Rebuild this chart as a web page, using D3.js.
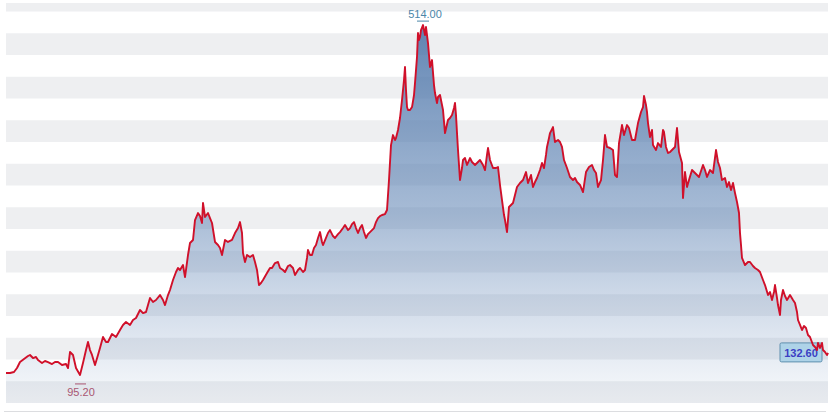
<!DOCTYPE html>
<html><head><meta charset="utf-8">
<script src="https://cdn.jsdelivr.net/npm/d3@7/dist/d3.min.js"></script>
<style>html,body{margin:0;padding:0;background:#fff;}svg{display:block;}</style>
</head><body><svg id="c" width="830" height="418"></svg>
<script>
// trading-day offsets and closing prices
const days = [0,4,8,11,14,18,22,24,27,30,32,36,39,42,46,49,52,56,60,62,64,67,70,74,77,80,82,84,86,89,92,94,97,100,102,106,110,114,117,120,124,127,130,134,137,140,144,147,150,154,157,159,162,164,167,170,172,174,177,179,182,184,187,189,192,194,196,197,199,202,204,206,209,212,214,216,219,222,226,229,232,234,236,237,239,241,244,247,249,251,253,255,257,261,264,266,269,272,274,277,279,282,284,287,289,292,294,297,299,301,302,304,306,308,310,312,314,316,317,320,322,324,327,329,332,334,337,339,342,344,346,348,350,352,354,356,358,360,362,364,366,368,370,372,374,376,379,381,383,385,387,389,390,392,394,396,398,399,400,401,402,404,406,408,409,410,411,412,413,414,415,417,418,419,420,421,422,424,426,428,429,431,432,434,436,437,439,442,444,446,448,449,450,451,452,454,456,457,459,461,464,466,469,472,474,477,479,481,482,484,487,490,492,494,496,498,499,501,503,505,507,509,511,514,517,520,522,525,527,529,531,534,536,538,540,541,543,544,547,549,552,554,556,558,561,564,567,569,571,574,577,580,583,586,588,590,592,595,597,599,601,604,607,609,611,613,616,618,621,623,626,629,632,635,637,638,640,641,642,644,646,647,650,652,655,657,658,660,662,664,666,669,671,673,676,677,679,681,683,686,689,693,697,699,701,704,707,710,712,714,716,719,721,723,725,727,729,731,733,734,735,736,739,742,744,747,749,752,754,757,759,762,764,766,768,769,771,772,774,775,777,779,781,784,787,789,791,792,794,796,798,800,802,804,807,809,811,812,814,816,817,819,821,822];
const prices = [109.5,109.5,110.6,115.2,122.1,125.6,129.0,130.2,126.7,127.9,124.4,121.0,123.3,122.1,119.8,122.1,122.1,118.7,119.8,115.2,133.6,130.2,115.2,107.2,121.0,135.9,145.1,135.9,130.2,118.7,130.2,138.2,150.9,145.1,145.1,154.3,150.9,158.9,164.7,168.1,164.7,170.4,172.7,181.9,178.4,179.6,195.7,191.1,193.4,199.1,193.4,187.6,199.1,204.9,216.4,225.6,230.2,227.9,233.6,219.8,245.1,258.9,262.4,285.3,293.4,289.9,281.9,304.9,288.8,293.4,287.6,281.9,260.1,256.6,253.2,245.1,262.4,260.1,262.4,270.4,276.1,283.0,270.4,247.4,237.1,245.1,242.8,245.1,237.1,227.9,210.6,212.9,216.4,224.4,230.2,230.2,235.9,237.1,230.2,227.9,225.6,232.5,233.6,230.2,222.1,227.9,230.2,225.6,227.9,241.7,250.9,245.1,245.1,253.2,256.6,264.7,271.5,260.1,256.6,264.7,270.4,273.8,266.9,264.7,269.2,271.5,276.1,279.6,273.8,276.1,280.7,283.0,276.1,270.4,276.1,279.6,271.5,264.7,269.2,271.5,273.8,276.1,283.0,287.6,289.9,291.1,292.2,296.8,331.3,371.5,383.0,377.3,379.6,388.8,402.6,423.3,446.3,461.2,434.8,415.2,411.8,411.8,415.2,429.0,442.8,457.7,472.7,500.3,492.2,495.7,503.7,509.5,503.7,498.0,507.2,498.0,488.8,461.2,469.2,440.5,431.3,419.8,426.7,429.0,417.5,411.8,385.3,400.3,402.6,406.0,414.1,419.8,406.0,385.3,365.8,331.3,345.1,354.3,356.6,348.6,356.6,352.0,348.6,352.0,354.3,348.6,342.8,360.1,368.1,354.3,345.1,345.1,346.3,325.6,308.3,291.1,285.3,271.5,300.3,302.6,304.9,314.1,323.3,327.9,331.3,340.5,327.9,337.1,323.3,329.0,333.6,342.8,350.9,345.1,360.1,369.3,379.6,385.3,392.2,375.0,377.3,375.0,369.3,354.3,345.1,334.8,331.3,333.6,329.0,325.6,317.5,340.5,346.3,348.6,342.8,339.4,323.3,331.3,354.3,383.0,369.3,368.1,365.8,337.1,334.8,373.8,394.5,383.0,394.5,391.1,377.3,377.3,396.8,409.5,415.2,427.9,417.5,409.5,396.8,380.7,388.8,371.5,365.8,373.8,369.3,388.8,386.5,369.3,362.4,363.5,365.8,369.3,391.1,363.5,350.9,310.6,340.5,323.3,331.3,342.8,339.4,334.8,348.6,342.8,334.8,342.8,339.4,365.8,352.0,345.1,331.3,333.6,323.3,329.0,319.8,327.9,316.4,306.0,293.4,270.4,256.6,241.7,233.6,237.1,237.1,232.5,230.2,227.9,225.6,216.4,210.6,199.1,202.6,193.4,202.6,210.6,195.7,187.6,176.1,193.4,204.9,198.0,193.4,199.1,193.4,189.9,179.6,170.4,164.7,158.9,163.5,161.2,153.2,150.9,141.7,139.4,135.9,144.0,138.2,144.0,135.9,133.6,130.2,132.6];

const yMin = 75, yMax = 534.8, bandStep = 25;
const highValue = 514.00, highDay = 417;
const lowValue = 95.20, lowDay = 74;
const lastValue = 132.60;

const W = 830, H = 418;
const m = {left: 6, right: 2, top: 3, bottom: 15};
const svg = d3.select("#c");
const x = d3.scaleLinear().domain([0, d3.max(days)]).range([m.left, W - m.right]);
const y = d3.scaleLinear().domain([yMin, yMax]).range([H - m.bottom, m.top]);
const fmt = d3.format(".2f");
const data = days.map((d, i) => ({d, v: prices[i]}));

// alternating bands
const bandStarts = d3.range(yMin, yMax, bandStep);
svg.append("g").selectAll("rect").data(bandStarts.filter((v, i) => i % 2 === 0)).join("rect")
  .attr("x", x(0)).attr("width", x(d3.max(days)) - x(0))
  .attr("y", v => y(Math.min(v + bandStep, yMax)))
  .attr("height", v => y(v) - y(Math.min(v + bandStep, yMax)))
  .attr("fill", "#eeeff1");

// bottom rule
svg.append("line").attr("x1", 4).attr("x2", 826)
  .attr("y1", y(yMin) + 8.5).attr("y2", y(yMin) + 8.5)
  .attr("stroke", "#dcdde0").attr("stroke-width", 1);

// gradient
const defs = svg.append("defs");
const g = defs.append("linearGradient").attr("id", "fillG")
  .attr("gradientUnits", "userSpaceOnUse")
  .attr("x1", 0).attr("x2", 0).attr("y1", y(d3.max(prices))).attr("y2", y(yMin));
g.append("stop").attr("offset", 0).attr("stop-color", "#4670a6").attr("stop-opacity", 0.85);
g.append("stop").attr("offset", 0.5).attr("stop-color", "#5f84b4").attr("stop-opacity", 0.55);
g.append("stop").attr("offset", 1).attr("stop-color", "#7f9cc4").attr("stop-opacity", 0.06);

svg.append("path").datum(data)
  .attr("d", d3.area().x(p => x(p.d)).y0(y(yMin)).y1(p => y(p.v)))
  .attr("fill", "url(#fillG)");

// last value box (drawn beneath the line)
const lastX = x(days[days.length - 1]), lastY = y(lastValue);
const box = svg.append("g");
box.append("rect").attr("x", lastX - 48).attr("y", lastY - 10).attr("width", 42).attr("height", 19)
  .attr("rx", 1.5).attr("fill", "#aed3e8").attr("stroke", "#5f8fae").attr("stroke-width", 1);
box.append("text").attr("x", lastX - 27).attr("y", lastY + 4).attr("text-anchor", "middle")
  .attr("font-family", "Liberation Sans, Arial, sans-serif").attr("font-size", 11).attr("font-weight", "bold")
  .attr("fill", "#3b3fc4").text(fmt(lastValue));

// price line
svg.append("path").datum(data)
  .attr("d", d3.line().x(p => x(p.d)).y(p => y(p.v)))
  .attr("fill", "none").attr("stroke", "#d0102a").attr("stroke-width", 1.9)
  .attr("stroke-linejoin", "round");

// high marker
svg.append("line").attr("x1", x(highDay) - 6).attr("x2", x(highDay) + 6)
  .attr("y1", y(highValue)).attr("y2", y(highValue)).attr("stroke", "#4b86a8").attr("stroke-width", 1);
svg.append("text").attr("x", x(highDay) + 2).attr("y", y(highValue) - 3).attr("text-anchor", "middle")
  .attr("font-family", "Liberation Sans, Arial, sans-serif").attr("font-size", 11)
  .attr("fill", "#4b86a8").text(fmt(highValue));

// low marker
svg.append("line").attr("x1", x(lowDay) - 5).attr("x2", x(lowDay) + 6)
  .attr("y1", y(lowValue) - 1.5).attr("y2", y(lowValue) - 1.5).attr("stroke", "#a85672").attr("stroke-width", 1);
svg.append("text").attr("x", x(lowDay) + 1).attr("y", y(lowValue) + 11).attr("text-anchor", "middle")
  .attr("font-family", "Liberation Sans, Arial, sans-serif").attr("font-size", 11)
  .attr("fill", "#a85672").text(fmt(lowValue));
</script></body></html>
